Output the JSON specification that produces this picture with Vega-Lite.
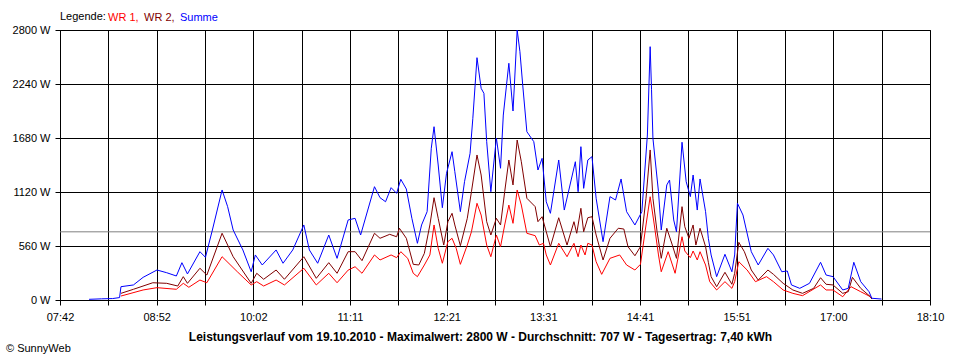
{
"$schema":"https://vega.github.io/schema/vega-lite/v6.json",
"width":870,"height":270,
"autosize":{"type":"none"},
"padding":{"left":60,"top":30,"right":30,"bottom":60},
"background":"white",
"config":{"font":"Liberation Sans","view":{"stroke":"black","strokeWidth":1}},
"title":{"text":"© SunnyWeb","orient":"bottom","anchor":"start","frame":"group","dx":-54,"offset":1,"fontSize":11,"fontWeight":"normal","color":"black","font":"Liberation Sans"},
"layer":[
{"data":{"values":[{"avg":707}]},
 "mark":{"type":"rule","color":"#808080","strokeWidth":1},
 "encoding":{"y":{"field":"avg","type":"quantitative"}}},
{"data":{"values":[
{"t":"08:26","s":"WR 1","p":41},{"t":"08:42","s":"WR 1","p":104},{"t":"08:52","s":"WR 1","p":128},{"t":"09:06","s":"WR 1","p":111},{"t":"09:11","s":"WR 1","p":173},{"t":"09:15","s":"WR 1","p":132},{"t":"09:23","s":"WR 1","p":207},{"t":"09:28","s":"WR 1","p":179},{"t":"09:39","s":"WR 1","p":449},{"t":"09:50","s":"WR 1","p":293},{"t":"10:00","s":"WR 1","p":156},{"t":"10:04","s":"WR 1","p":190},{"t":"10:09","s":"WR 1","p":145},{"t":"10:18","s":"WR 1","p":207},{"t":"10:24","s":"WR 1","p":156},{"t":"10:38","s":"WR 1","p":329},{"t":"10:47","s":"WR 1","p":156},{"t":"10:56","s":"WR 1","p":277},{"t":"11:02","s":"WR 1","p":179},{"t":"11:10","s":"WR 1","p":310},{"t":"11:15","s":"WR 1","p":345},{"t":"11:20","s":"WR 1","p":277},{"t":"11:29","s":"WR 1","p":467},{"t":"11:33","s":"WR 1","p":415},{"t":"11:41","s":"WR 1","p":467},{"t":"11:45","s":"WR 1","p":439},{"t":"11:48","s":"WR 1","p":501},{"t":"11:53","s":"WR 1","p":432},{"t":"11:57","s":"WR 1","p":277},{"t":"12:00","s":"WR 1","p":242},{"t":"12:05","s":"WR 1","p":363},{"t":"12:09","s":"WR 1","p":467},{"t":"12:12","s":"WR 1","p":778},{"t":"12:15","s":"WR 1","p":536},{"t":"12:18","s":"WR 1","p":381},{"t":"12:22","s":"WR 1","p":605},{"t":"12:25","s":"WR 1","p":640},{"t":"12:28","s":"WR 1","p":536},{"t":"12:31","s":"WR 1","p":370},{"t":"12:36","s":"WR 1","p":570},{"t":"12:39","s":"WR 1","p":708},{"t":"12:43","s":"WR 1","p":1003},{"t":"12:46","s":"WR 1","p":881},{"t":"12:50","s":"WR 1","p":570},{"t":"12:53","s":"WR 1","p":449},{"t":"12:57","s":"WR 1","p":674},{"t":"13:00","s":"WR 1","p":553},{"t":"13:03","s":"WR 1","p":778},{"t":"13:06","s":"WR 1","p":985},{"t":"13:09","s":"WR 1","p":795},{"t":"13:12","s":"WR 1","p":1141},{"t":"13:15","s":"WR 1","p":985},{"t":"13:19","s":"WR 1","p":692},{"t":"13:25","s":"WR 1","p":667},{"t":"13:28","s":"WR 1","p":570},{"t":"13:31","s":"WR 1","p":588},{"t":"13:33","s":"WR 1","p":467},{"t":"13:36","s":"WR 1","p":363},{"t":"13:42","s":"WR 1","p":588},{"t":"13:48","s":"WR 1","p":449},{"t":"13:53","s":"WR 1","p":588},{"t":"13:56","s":"WR 1","p":449},{"t":"13:58","s":"WR 1","p":570},{"t":"14:01","s":"WR 1","p":467},{"t":"14:03","s":"WR 1","p":588},{"t":"14:06","s":"WR 1","p":570},{"t":"14:09","s":"WR 1","p":397},{"t":"14:13","s":"WR 1","p":266},{"t":"14:19","s":"WR 1","p":432},{"t":"14:26","s":"WR 1","p":467},{"t":"14:31","s":"WR 1","p":363},{"t":"14:37","s":"WR 1","p":311},{"t":"14:41","s":"WR 1","p":370},{"t":"14:45","s":"WR 1","p":778},{"t":"14:48","s":"WR 1","p":1071},{"t":"14:51","s":"WR 1","p":778},{"t":"14:54","s":"WR 1","p":467},{"t":"14:56","s":"WR 1","p":293},{"t":"15:01","s":"WR 1","p":501},{"t":"15:06","s":"WR 1","p":277},{"t":"15:11","s":"WR 1","p":656},{"t":"15:13","s":"WR 1","p":508},{"t":"15:17","s":"WR 1","p":439},{"t":"15:19","s":"WR 1","p":508},{"t":"15:22","s":"WR 1","p":415},{"t":"15:24","s":"WR 1","p":501},{"t":"15:28","s":"WR 1","p":363},{"t":"15:31","s":"WR 1","p":190},{"t":"15:36","s":"WR 1","p":104},{"t":"15:42","s":"WR 1","p":190},{"t":"15:47","s":"WR 1","p":121},{"t":"15:49","s":"WR 1","p":190},{"t":"15:52","s":"WR 1","p":397},{"t":"15:58","s":"WR 1","p":311},{"t":"16:04","s":"WR 1","p":190},{"t":"16:12","s":"WR 1","p":242},{"t":"16:17","s":"WR 1","p":190},{"t":"16:24","s":"WR 1","p":104},{"t":"16:31","s":"WR 1","p":69},{"t":"16:38","s":"WR 1","p":45},{"t":"16:51","s":"WR 1","p":156},{"t":"16:55","s":"WR 1","p":104},{"t":"17:00","s":"WR 1","p":104},{"t":"17:07","s":"WR 1","p":34},{"t":"17:13","s":"WR 1","p":138},{"t":"17:20","s":"WR 1","p":86},{"t":"17:27","s":"WR 1","p":34},{"t":"17:28","s":"WR 1","p":10},
{"t":"08:26","s":"WR 2","p":69},{"t":"08:35","s":"WR 2","p":111},{"t":"08:49","s":"WR 2","p":179},{"t":"08:59","s":"WR 2","p":173},{"t":"09:07","s":"WR 2","p":145},{"t":"09:11","s":"WR 2","p":242},{"t":"09:14","s":"WR 2","p":173},{"t":"09:23","s":"WR 2","p":329},{"t":"09:28","s":"WR 2","p":259},{"t":"09:39","s":"WR 2","p":692},{"t":"09:47","s":"WR 2","p":449},{"t":"10:00","s":"WR 2","p":173},{"t":"10:04","s":"WR 2","p":277},{"t":"10:09","s":"WR 2","p":215},{"t":"10:18","s":"WR 2","p":311},{"t":"10:24","s":"WR 2","p":215},{"t":"10:38","s":"WR 2","p":449},{"t":"10:47","s":"WR 2","p":225},{"t":"10:56","s":"WR 2","p":387},{"t":"11:02","s":"WR 2","p":277},{"t":"11:10","s":"WR 2","p":501},{"t":"11:15","s":"WR 2","p":501},{"t":"11:20","s":"WR 2","p":408},{"t":"11:29","s":"WR 2","p":692},{"t":"11:33","s":"WR 2","p":640},{"t":"11:40","s":"WR 2","p":681},{"t":"11:45","s":"WR 2","p":656},{"t":"11:47","s":"WR 2","p":744},{"t":"11:52","s":"WR 2","p":640},{"t":"11:57","s":"WR 2","p":370},{"t":"12:01","s":"WR 2","p":363},{"t":"12:05","s":"WR 2","p":484},{"t":"12:09","s":"WR 2","p":778},{"t":"12:12","s":"WR 2","p":1061},{"t":"12:15","s":"WR 2","p":847},{"t":"12:19","s":"WR 2","p":570},{"t":"12:22","s":"WR 2","p":812},{"t":"12:25","s":"WR 2","p":899},{"t":"12:27","s":"WR 2","p":778},{"t":"12:31","s":"WR 2","p":563},{"t":"12:36","s":"WR 2","p":847},{"t":"12:39","s":"WR 2","p":1123},{"t":"12:43","s":"WR 2","p":1504},{"t":"12:46","s":"WR 2","p":1296},{"t":"12:50","s":"WR 2","p":812},{"t":"12:53","s":"WR 2","p":674},{"t":"12:57","s":"WR 2","p":847},{"t":"13:00","s":"WR 2","p":778},{"t":"13:03","s":"WR 2","p":1123},{"t":"13:06","s":"WR 2","p":1452},{"t":"13:09","s":"WR 2","p":1193},{"t":"13:12","s":"WR 2","p":1659},{"t":"13:15","s":"WR 2","p":1434},{"t":"13:19","s":"WR 2","p":1055},{"t":"13:25","s":"WR 2","p":968},{"t":"13:27","s":"WR 2","p":812},{"t":"13:30","s":"WR 2","p":864},{"t":"13:33","s":"WR 2","p":708},{"t":"13:36","s":"WR 2","p":553},{"t":"13:42","s":"WR 2","p":853},{"t":"13:48","s":"WR 2","p":570},{"t":"13:53","s":"WR 2","p":812},{"t":"13:55","s":"WR 2","p":692},{"t":"13:58","s":"WR 2","p":951},{"t":"14:00","s":"WR 2","p":708},{"t":"14:03","s":"WR 2","p":853},{"t":"14:06","s":"WR 2","p":864},{"t":"14:09","s":"WR 2","p":674},{"t":"14:14","s":"WR 2","p":415},{"t":"14:19","s":"WR 2","p":640},{"t":"14:25","s":"WR 2","p":744},{"t":"14:29","s":"WR 2","p":736},{"t":"14:32","s":"WR 2","p":553},{"t":"14:37","s":"WR 2","p":459},{"t":"14:41","s":"WR 2","p":553},{"t":"14:45","s":"WR 2","p":1055},{"t":"14:48","s":"WR 2","p":1556},{"t":"14:50","s":"WR 2","p":1055},{"t":"14:53","s":"WR 2","p":708},{"t":"14:56","s":"WR 2","p":432},{"t":"15:00","s":"WR 2","p":744},{"t":"15:04","s":"WR 2","p":570},{"t":"15:07","s":"WR 2","p":432},{"t":"15:11","s":"WR 2","p":968},{"t":"15:13","s":"WR 2","p":760},{"t":"15:16","s":"WR 2","p":640},{"t":"15:19","s":"WR 2","p":778},{"t":"15:21","s":"WR 2","p":570},{"t":"15:24","s":"WR 2","p":744},{"t":"15:28","s":"WR 2","p":553},{"t":"15:30","s":"WR 2","p":391},{"t":"15:32","s":"WR 2","p":242},{"t":"15:36","s":"WR 2","p":138},{"t":"15:42","s":"WR 2","p":287},{"t":"15:47","s":"WR 2","p":163},{"t":"15:49","s":"WR 2","p":277},{"t":"15:52","s":"WR 2","p":598},{"t":"15:56","s":"WR 2","p":501},{"t":"16:01","s":"WR 2","p":311},{"t":"16:06","s":"WR 2","p":207},{"t":"16:13","s":"WR 2","p":311},{"t":"16:17","s":"WR 2","p":266},{"t":"16:24","s":"WR 2","p":173},{"t":"16:31","s":"WR 2","p":104},{"t":"16:38","s":"WR 2","p":69},{"t":"16:46","s":"WR 2","p":121},{"t":"16:51","s":"WR 2","p":231},{"t":"16:55","s":"WR 2","p":163},{"t":"17:00","s":"WR 2","p":156},{"t":"17:07","s":"WR 2","p":69},{"t":"17:11","s":"WR 2","p":86},{"t":"17:14","s":"WR 2","p":235},{"t":"17:20","s":"WR 2","p":121},{"t":"17:27","s":"WR 2","p":34},{"t":"17:28","s":"WR 2","p":10},
{"t":"08:03","s":"Summe","p":7},{"t":"08:12","s":"Summe","p":12},{"t":"08:20","s":"Summe","p":15},{"t":"08:25","s":"Summe","p":25},{"t":"08:26","s":"Summe","p":138},{"t":"08:35","s":"Summe","p":156},{"t":"08:42","s":"Summe","p":235},{"t":"08:52","s":"Summe","p":311},{"t":"08:59","s":"Summe","p":283},{"t":"09:06","s":"Summe","p":249},{"t":"09:10","s":"Summe","p":387},{"t":"09:14","s":"Summe","p":270},{"t":"09:23","s":"Summe","p":501},{"t":"09:27","s":"Summe","p":443},{"t":"09:32","s":"Summe","p":726},{"t":"09:39","s":"Summe","p":1141},{"t":"09:43","s":"Summe","p":968},{"t":"09:47","s":"Summe","p":726},{"t":"09:54","s":"Summe","p":519},{"t":"10:00","s":"Summe","p":293},{"t":"10:03","s":"Summe","p":467},{"t":"10:08","s":"Summe","p":363},{"t":"10:18","s":"Summe","p":519},{"t":"10:23","s":"Summe","p":381},{"t":"10:30","s":"Summe","p":519},{"t":"10:38","s":"Summe","p":778},{"t":"10:42","s":"Summe","p":519},{"t":"10:48","s":"Summe","p":381},{"t":"10:56","s":"Summe","p":674},{"t":"11:02","s":"Summe","p":432},{"t":"11:10","s":"Summe","p":830},{"t":"11:15","s":"Summe","p":847},{"t":"11:19","s":"Summe","p":674},{"t":"11:29","s":"Summe","p":1175},{"t":"11:33","s":"Summe","p":1061},{"t":"11:37","s":"Summe","p":1019},{"t":"11:41","s":"Summe","p":1165},{"t":"11:45","s":"Summe","p":1106},{"t":"11:48","s":"Summe","p":1252},{"t":"11:52","s":"Summe","p":1151},{"t":"11:56","s":"Summe","p":847},{"t":"12:00","s":"Summe","p":588},{"t":"12:03","s":"Summe","p":778},{"t":"12:07","s":"Summe","p":916},{"t":"12:10","s":"Summe","p":1573},{"t":"12:12","s":"Summe","p":1797},{"t":"12:15","s":"Summe","p":1400},{"t":"12:18","s":"Summe","p":957},{"t":"12:21","s":"Summe","p":1314},{"t":"12:25","s":"Summe","p":1538},{"t":"12:27","s":"Summe","p":1331},{"t":"12:31","s":"Summe","p":916},{"t":"12:34","s":"Summe","p":1227},{"t":"12:38","s":"Summe","p":1521},{"t":"12:40","s":"Summe","p":1884},{"t":"12:43","s":"Summe","p":2513},{"t":"12:46","s":"Summe","p":2195},{"t":"12:48","s":"Summe","p":2143},{"t":"12:50","s":"Summe","p":1642},{"t":"12:53","s":"Summe","p":1123},{"t":"12:57","s":"Summe","p":1680},{"t":"13:00","s":"Summe","p":1366},{"t":"13:02","s":"Summe","p":1918},{"t":"13:06","s":"Summe","p":2455},{"t":"13:09","s":"Summe","p":1960},{"t":"13:10","s":"Summe","p":2230},{"t":"13:12","s":"Summe","p":2800},{"t":"13:14","s":"Summe","p":2575},{"t":"13:16","s":"Summe","p":2230},{"t":"13:19","s":"Summe","p":1745},{"t":"13:24","s":"Summe","p":1642},{"t":"13:27","s":"Summe","p":1348},{"t":"13:30","s":"Summe","p":1469},{"t":"13:33","s":"Summe","p":1019},{"t":"13:36","s":"Summe","p":899},{"t":"13:42","s":"Summe","p":1452},{"t":"13:46","s":"Summe","p":933},{"t":"13:54","s":"Summe","p":1434},{"t":"13:56","s":"Summe","p":1123},{"t":"13:58","s":"Summe","p":1590},{"t":"14:00","s":"Summe","p":1158},{"t":"14:03","s":"Summe","p":1452},{"t":"14:06","s":"Summe","p":1486},{"t":"14:09","s":"Summe","p":1055},{"t":"14:14","s":"Summe","p":605},{"t":"14:19","s":"Summe","p":1072},{"t":"14:23","s":"Summe","p":1037},{"t":"14:27","s":"Summe","p":1255},{"t":"14:31","s":"Summe","p":916},{"t":"14:37","s":"Summe","p":778},{"t":"14:42","s":"Summe","p":916},{"t":"14:46","s":"Summe","p":1711},{"t":"14:48","s":"Summe","p":2627},{"t":"14:49","s":"Summe","p":2180},{"t":"14:50","s":"Summe","p":1677},{"t":"14:54","s":"Summe","p":1123},{"t":"14:56","s":"Summe","p":726},{"t":"15:00","s":"Summe","p":1193},{"t":"15:02","s":"Summe","p":1244},{"t":"15:05","s":"Summe","p":830},{"t":"15:07","s":"Summe","p":708},{"t":"15:11","s":"Summe","p":1636},{"t":"15:14","s":"Summe","p":1227},{"t":"15:17","s":"Summe","p":1072},{"t":"15:19","s":"Summe","p":1296},{"t":"15:22","s":"Summe","p":933},{"t":"15:24","s":"Summe","p":1255},{"t":"15:28","s":"Summe","p":916},{"t":"15:30","s":"Summe","p":640},{"t":"15:32","s":"Summe","p":467},{"t":"15:36","s":"Summe","p":242},{"t":"15:42","s":"Summe","p":474},{"t":"15:47","s":"Summe","p":293},{"t":"15:49","s":"Summe","p":467},{"t":"15:51","s":"Summe","p":1003},{"t":"15:55","s":"Summe","p":881},{"t":"16:01","s":"Summe","p":501},{"t":"16:06","s":"Summe","p":363},{"t":"16:13","s":"Summe","p":536},{"t":"16:17","s":"Summe","p":467},{"t":"16:23","s":"Summe","p":293},{"t":"16:27","s":"Summe","p":301},{"t":"16:30","s":"Summe","p":156},{"t":"16:36","s":"Summe","p":121},{"t":"16:43","s":"Summe","p":173},{"t":"16:51","s":"Summe","p":391},{"t":"16:55","s":"Summe","p":259},{"t":"17:00","s":"Summe","p":242},{"t":"17:07","s":"Summe","p":104},{"t":"17:11","s":"Summe","p":121},{"t":"17:15","s":"Summe","p":391},{"t":"17:20","s":"Summe","p":190},{"t":"17:26","s":"Summe","p":86},{"t":"17:28","s":"Summe","p":18},{"t":"17:35","s":"Summe","p":10}
],"format":{"parse":{"t":"utc:'%H:%M'"}}},
 "mark":{"type":"line","strokeWidth":1,"interpolate":"linear"},
 "encoding":{
  "x":{"field":"t","type":"temporal",
   "scale":{"type":"utc","domain":[-2208961080000,-2208923400000]},
   "axis":{"values":[-2208961080000,-2208958986667,-2208956893333,-2208954800000,-2208952706667,-2208950613333,-2208948520000,-2208946426667,-2208944333333,-2208942240000,-2208940146667,-2208938053333,-2208935960000,-2208933866667,-2208931773333,-2208929680000,-2208927586667,-2208925493333,-2208923400000],
    "labelExpr":"round(datum.index*18) % 2 == 1 ? '' : ['07:42','08:52','10:02','11:11','12:21','13:31','14:41','15:51','17:00','18:10'][round(datum.index*9)]",
    "grid":true,"gridColor":"black","gridOpacity":1,"gridWidth":1,
    "tickColor":"black","tickSize":5,"tickWidth":1,"domainColor":"black","domainWidth":1,
    "labelColor":"black","labelFontSize":11,"labelFont":"Liberation Sans","labelPadding":6,"labelOverlap":false,"labelFlush":false,
    "title":"Leistungsverlauf vom 19.10.2010 - Maximalwert: 2800 W - Durchschnitt: 707 W - Tagesertrag: 7,40 kWh",
    "titleFont":"Liberation Sans","titleFontSize":12,"titleFontWeight":"bold","titleColor":"black","titleX":420,"titleY":31,"titleBaseline":"top"}},
  "y":{"field":"p","type":"quantitative",
   "scale":{"domain":[0,2800],"nice":false},
   "axis":{"values":[0,560,1120,1680,2240,2800],"labelExpr":"datum.value + ' W'",
    "grid":true,"gridColor":"black","gridOpacity":1,"gridWidth":1,
    "tickColor":"black","tickSize":5,"domainColor":"black",
    "labelColor":"black","labelFontSize":11,"labelFont":"Liberation Sans","labelPadding":5,"title":null}},
  "color":{"field":"s","type":"nominal",
   "scale":{"domain":["WR 1","WR 2","Summe"],"range":["#ff0000","#800000","#0000ff"]},
   "legend":{"orient":"none","legendX":0,"legendY":-18,"direction":"horizontal","columns":3,
    "title":"Legende:","titleOrient":"left","titleFont":"Liberation Sans","titleFontSize":11,"titleFontWeight":"normal","titleColor":"black","titlePadding":1,
    "labelFont":"Liberation Sans","labelFontSize":11,"symbolSize":1,"symbolOpacity":0,"symbolStrokeWidth":0,"labelOffset":-10,"columnPadding":4,"padding":0,
    "labelExpr":"datum.label == 'Summe' ? datum.label : datum.label + ','",
    "encode":{"labels":{"update":{"fill":{"scale":"color","field":"value"}}}}}}
 }}
]
}
